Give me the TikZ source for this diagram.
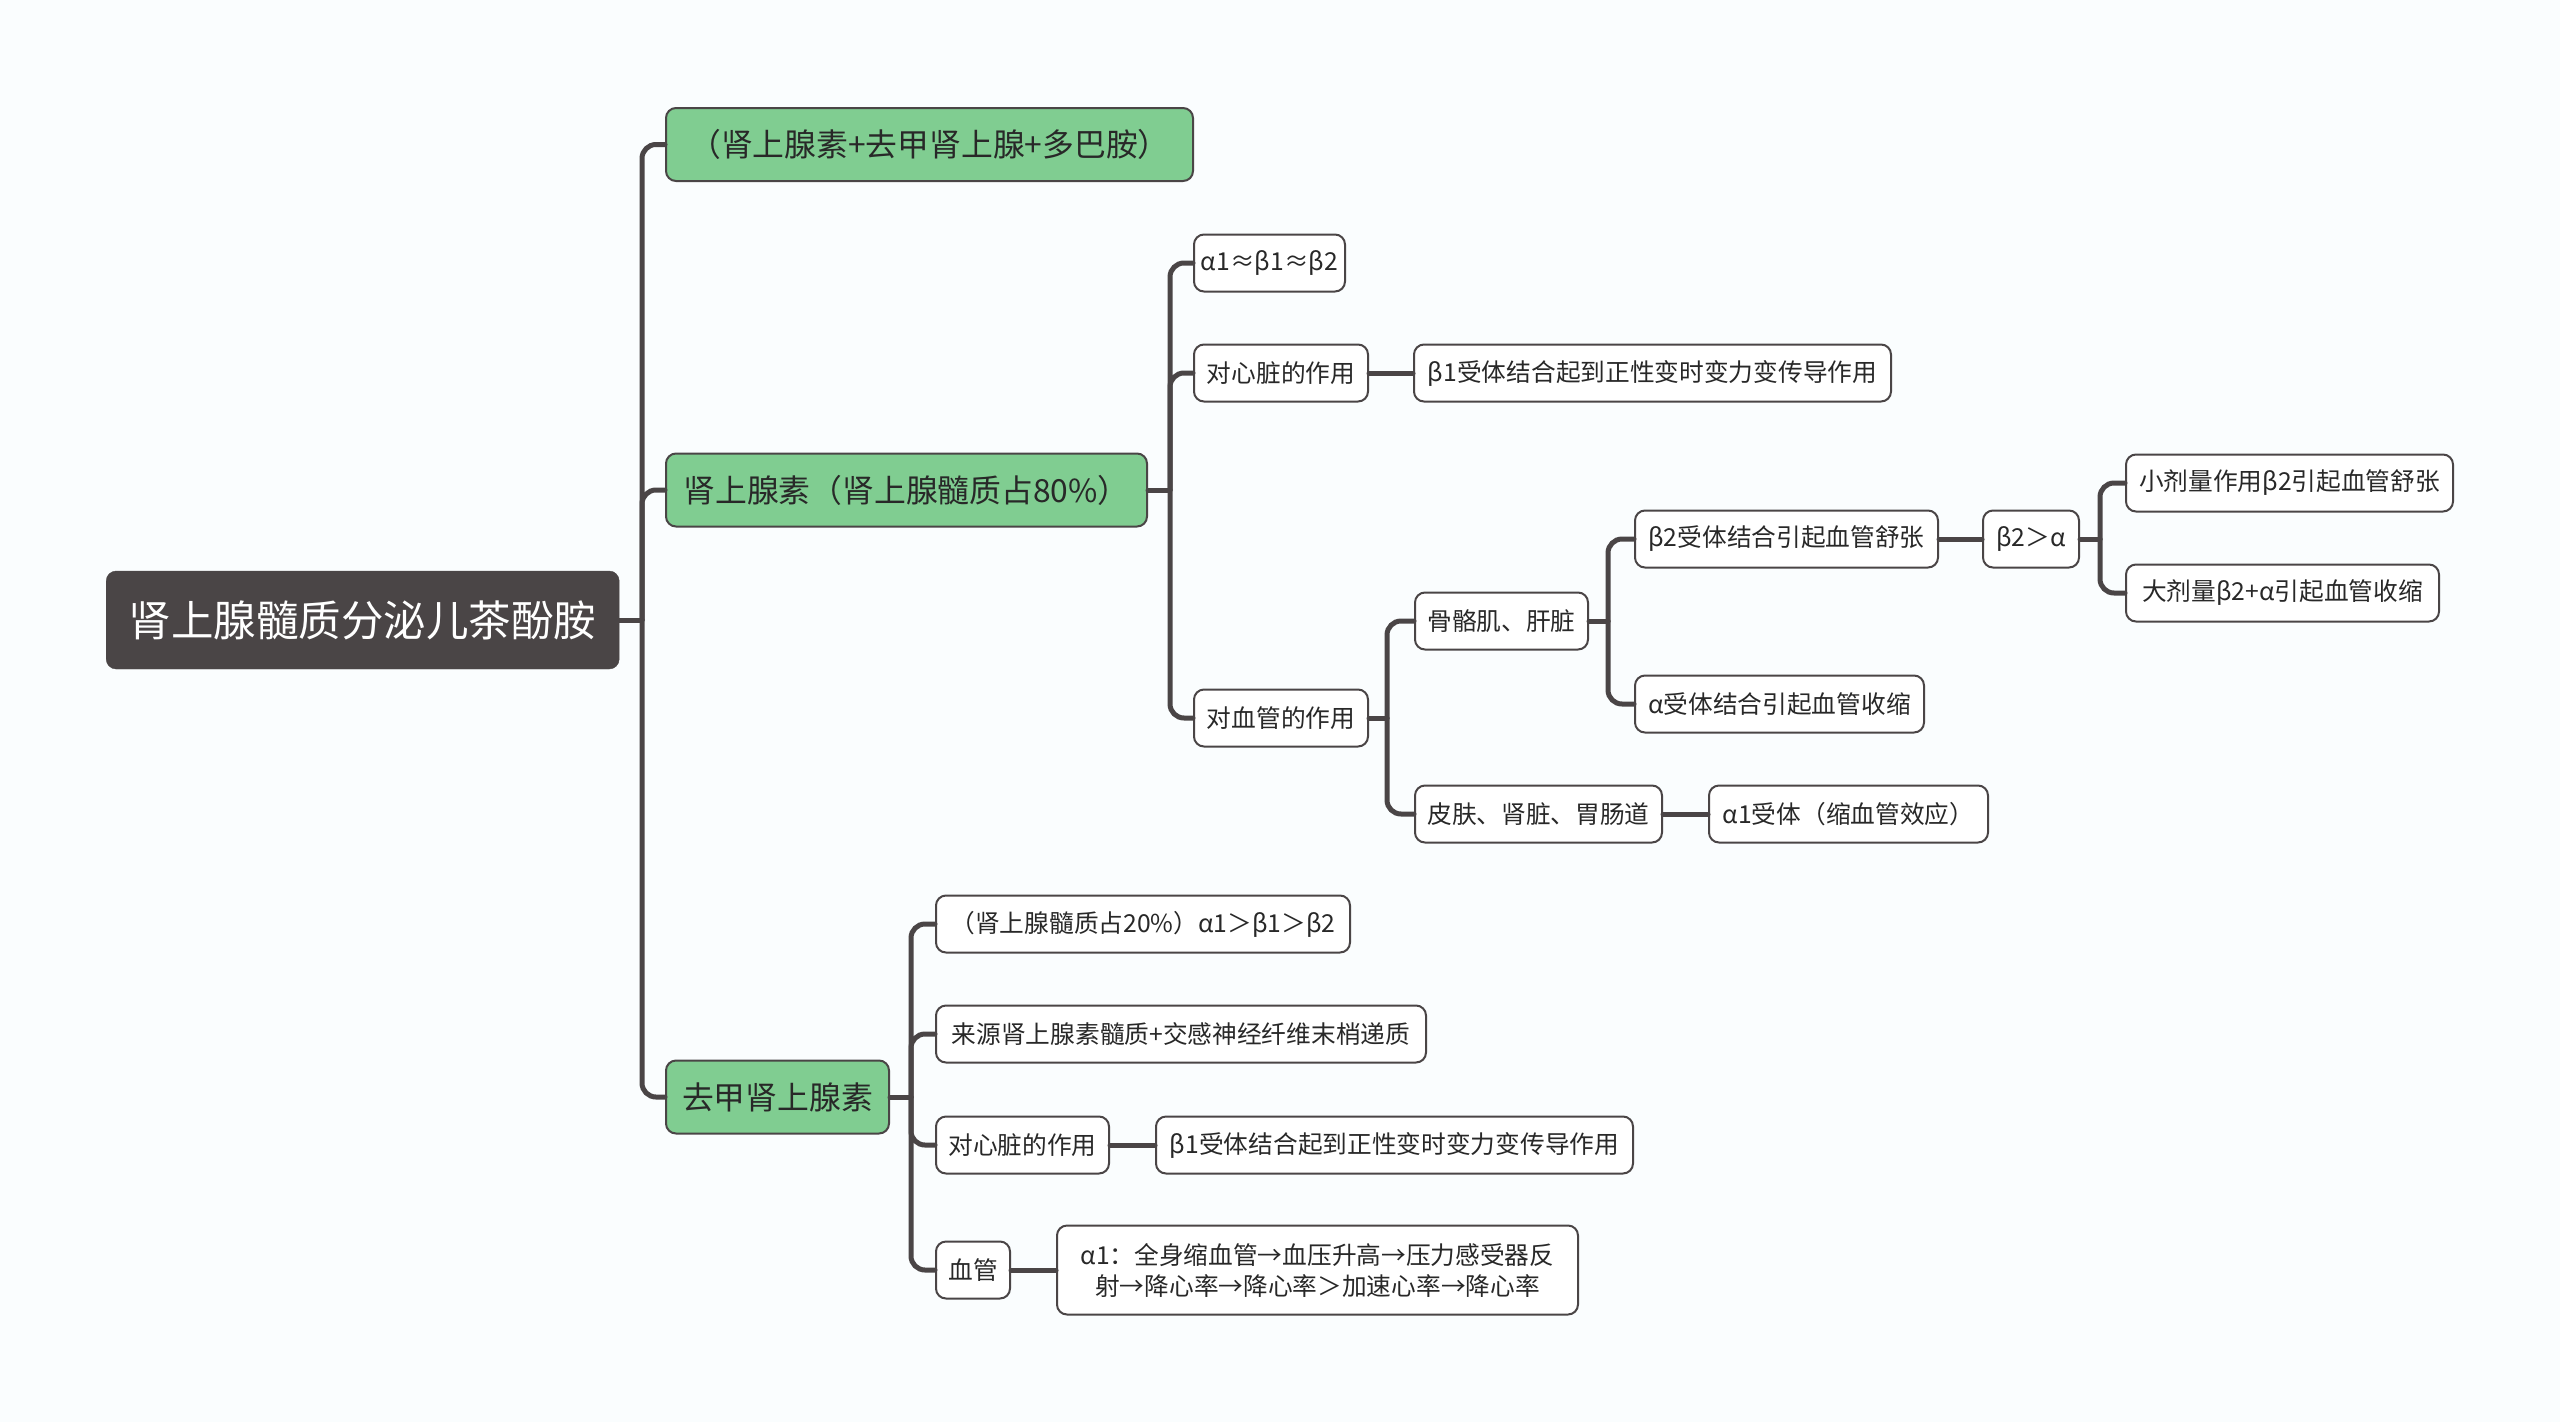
\documentclass[tikz,border=0pt]{standalone}
\usepackage{fontspec}
\setmainfont{Noto Sans CJK SC}
\definecolor{bgc}{RGB}{250,253,254}
\definecolor{rootc}{RGB}{74,69,70}
\definecolor{greenc}{RGB}{128,205,145}
\definecolor{linec}{RGB}{74,69,70}
\definecolor{textc}{RGB}{40,40,40}
\tikzset{
  rootbox/.style={fill=rootc, draw=rootc, rounded corners=10pt, text=white, font=\fontsize{42.5}{50}\selectfont, minimum height=98pt, inner sep=0pt, anchor=west},
  lonebox/.style={fill=greenc, draw=linec, line width=2pt, rounded corners=10pt, text=textc, font=\fontsize{31.8}{38}\selectfont, minimum height=73pt, inner sep=0pt, anchor=west},
  leafbox/.style={fill=white, draw=linec, line width=2pt, rounded corners=10pt, text=textc, font=\fontsize{24.7}{31}\selectfont, minimum height=57pt, inner sep=0pt, anchor=west},
  conn/.style={draw=linec, line width=5pt, rounded corners=14pt, line cap=round},
}
\begin{document}
\begin{tikzpicture}[x=1pt,y=-1pt]
\useasboundingbox (0,0) rectangle (2560,1422);
\fill[bgc] (0,0) rectangle (2560,1422);

% trunk coordinates
\coordinate (t0) at (642,620);
\coordinate (t1) at (1170,490);
\coordinate (t2) at (1387,718);
\coordinate (t3) at (1608,621);
\coordinate (t4) at (2100,539);
\coordinate (t5) at (911,1097);

% connectors (drawn first, nodes cover ends)
\begin{scope}[on background layer/.style={}]
\end{scope}

% nodes
\node[rootbox, minimum width=513pt] (root) at (106,620) {肾上腺髓质分泌儿茶酚胺};
\node[lonebox, minimum width=527pt] (A1) at (665,144.5) {（肾上腺素+去甲肾上腺+多巴胺）};
\node[lonebox, minimum width=481pt] (A2) at (665,490) {肾上腺素（肾上腺髓质占80\%）};
\node[lonebox, minimum width=223pt] (A3) at (665,1097) {去甲肾上腺素};

\node[leafbox, minimum width=151pt] (B1) at (1193,263) {α1≈β1≈β2};
\node[leafbox, minimum width=174pt] (B2) at (1193,373) {对心脏的作用};
\node[leafbox, minimum width=477pt] (B2a) at (1413,373) {β1受体结合起到正性变时变力变传导作用};
\node[leafbox, minimum width=174pt] (B3) at (1193,718) {对血管的作用};

\node[leafbox, minimum width=173pt] (C1) at (1414,621) {骨骼肌、肝脏};
\node[leafbox, minimum width=247pt] (C2) at (1414,814) {皮肤、肾脏、胃肠道};
\node[leafbox, minimum width=279pt] (C2a) at (1708,814) {α1受体（缩血管效应）};

\node[leafbox, minimum width=303pt] (D1) at (1634,539) {β2受体结合引起血管舒张};
\node[leafbox, minimum width=289pt] (D2) at (1634,704) {α受体结合引起血管收缩};
\node[leafbox, minimum width=96pt] (E1) at (1982,539) {β2＞α};
\node[leafbox, minimum width=327pt] (F1) at (2125,483) {小剂量作用β2引起血管舒张};
\node[leafbox, minimum width=313pt] (F2) at (2125,593) {大剂量β2+α引起血管收缩};

\node[leafbox, minimum width=414pt] (G1) at (935,924) {（肾上腺髓质占20\%）α1＞β1＞β2};
\node[leafbox, minimum width=490pt] (G2) at (935,1034) {来源肾上腺素髓质+交感神经纤维末梢递质};
\node[leafbox, minimum width=173pt] (G3) at (935,1145) {对心脏的作用};
\node[leafbox, minimum width=477pt] (G3a) at (1155,1145) {β1受体结合起到正性变时变力变传导作用};
\node[leafbox, minimum width=74pt] (G4) at (935,1270) {血管};
\node[leafbox, minimum width=521pt, minimum height=89pt, align=center] (G4a) at (1056,1270) {α1：全身缩血管→血压升高→压力感受器反\\射→降心率→降心率＞加速心率→降心率};

% connectors
\draw[conn] (root.east) -- (t0);
\draw[conn] (t0) |- (A1.west);
\draw[conn] (t0) |- (A2.west);
\draw[conn] (t0) |- (A3.west);

\draw[conn] (A2.east) -- (t1);
\draw[conn] (t1) |- (B1.west);
\draw[conn] (t1) |- (B2.west);
\draw[conn] (t1) |- (B3.west);
\draw[conn] (B2.east) -- (B2a.west);

\draw[conn] (B3.east) -- (t2);
\draw[conn] (t2) |- (C1.west);
\draw[conn] (t2) |- (C2.west);
\draw[conn] (C2.east) -- (C2a.west);

\draw[conn] (C1.east) -- (t3);
\draw[conn] (t3) |- (D1.west);
\draw[conn] (t3) |- (D2.west);
\draw[conn] (D1.east) -- (E1.west);

\draw[conn] (E1.east) -- (t4);
\draw[conn] (t4) |- (F1.west);
\draw[conn] (t4) |- (F2.west);

\draw[conn] (A3.east) -- (t5);
\draw[conn] (t5) |- (G1.west);
\draw[conn] (t5) |- (G2.west);
\draw[conn] (t5) |- (G3.west);
\draw[conn] (t5) |- (G4.west);
\draw[conn] (G3.east) -- (G3a.west);
\draw[conn] (G4.east) -- (G4a.west);
\end{tikzpicture}
\end{document}
